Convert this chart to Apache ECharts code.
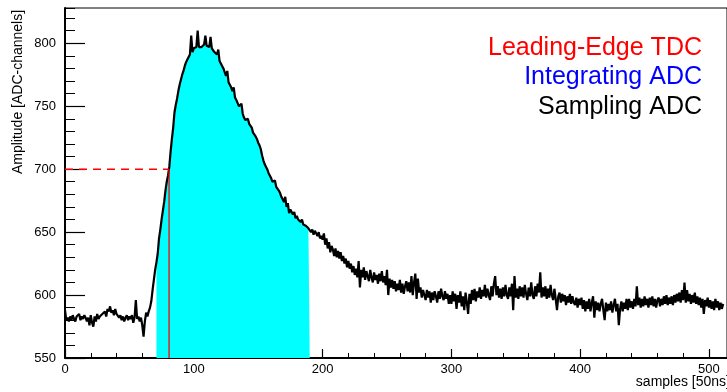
<!DOCTYPE html>
<html>
<head>
<meta charset="utf-8">
<script src="https://cdn.jsdelivr.net/npm/echarts@6/dist/echarts.min.js"></script>
<style>
  html, body { margin: 0; padding: 0; background: #fff; }
  #chart { width: 727px; height: 392px; }
</style>
</head>
<body>
<div id="chart"></div>
<script>
// sampled waveform, one value per 50 ns sample (0..511)
const amplitude = [
  588, 580, 582, 579, 583, 580, 584, 581, 579, 583, 582, 585, 580, 583, 581, 584, 582, 579, 582, 576,
  584, 578, 575, 583, 579, 585, 581, 583, 582, 585, 584, 587, 583, 589, 587, 591, 586, 588, 584, 589,
  585, 586, 582, 584, 580, 583, 579, 582, 584, 580, 583, 581, 584, 578, 582, 596, 581, 583, 579, 582,
  576, 567, 579, 586, 583, 587, 590, 595, 604, 612, 620, 626, 633, 645, 652, 660, 667, 674, 683, 690,
  695, 702, 714, 724, 733, 745, 751, 756, 762, 767, 771, 775, 778, 782, 785, 787, 789, 791, 806, 793,
  796, 795, 797, 810, 797, 798, 797, 798, 799, 806, 798, 799, 797, 805, 796, 795, 793, 792, 791, 795,
  786, 784, 785, 780, 779, 774, 778, 769, 768, 765, 762, 765, 757, 755, 756, 750, 749, 752, 744, 741,
  739, 738, 740, 736, 735, 733, 729, 728, 726, 724, 721, 719, 716, 711, 707, 704, 702, 700, 697, 695,
  693, 690, 689, 691, 686, 685, 683, 681, 678, 676, 674, 678, 670, 673, 665, 668, 667, 664, 666, 661,
  663, 660, 661, 658, 660, 656, 657, 655, 656, 653, 654, 650, 652, 648, 651, 649, 647, 650, 645, 647,
  644, 649, 640, 645, 637, 642, 634, 639, 636, 631, 637, 630, 635, 629, 634, 627, 631, 625, 629, 622,
  627, 621, 625, 618, 623, 616, 621, 614, 627, 606, 620, 614, 622, 612, 619, 615, 611, 620, 614, 610,
  618, 612, 616, 609, 617, 611, 619, 610, 615, 608, 620, 600, 613, 606, 612, 605, 611, 603, 609, 604,
  612, 602, 609, 601, 607, 611, 603, 610, 602, 615, 600, 610, 617, 597, 613, 602, 606, 598, 604, 600,
  596, 604, 598, 603, 594, 602, 596, 603, 599, 594, 603, 597, 605, 599, 596, 603, 597, 601, 593, 600,
  593, 603, 595, 601, 589, 600, 594, 603, 591, 599, 588, 602, 594, 585, 601, 593, 604, 596, 605, 595,
  603, 598, 606, 597, 604, 599, 608, 598, 605, 600, 596, 607, 599, 609, 615, 600, 607, 598, 605, 597,
  606, 599, 608, 600, 597, 606, 599, 609, 588, 615, 598, 605, 597, 607, 599, 606, 598, 608, 601, 596,
  606, 599, 610, 600, 597, 607, 599, 609, 602, 618, 598, 606, 599, 607, 597, 605, 598, 608, 600, 596,
  605, 597, 588, 599, 602, 594, 601, 595, 600, 592, 599, 594, 601, 593, 599, 594, 592, 598, 590, 597,
  592, 598, 589, 596, 587, 595, 589, 597, 587, 594, 599, 582, 595, 588, 594, 587, 593, 597, 588, 580,
  594, 587, 593, 588, 595, 586, 592, 597, 587, 593, 576, 589, 595, 587, 594, 589, 597, 588, 597, 590,
  595, 589, 597, 591, 607, 592, 598, 590, 597, 591, 599, 592, 597, 590, 598, 592, 599, 591, 597, 590,
  596, 598, 591, 597, 592, 599, 593, 600, 592, 598, 593, 599, 592, 600, 594, 601, 595, 602, 594, 604,
  596, 610, 594, 604, 595, 601, 593, 600, 594, 602, 593, 599, 592, 598, 590, 597, 585, 596, 591, 598,
  590, 596, 589, 595, 588, 597, 590, 595, 588, 594, 589, 593
]

// integration gate (samples) and leading-edge threshold
const gateStart = 71
const gateEnd = 190
const threshold = 700
const crossingSample = 80.8

const legendItems = ['Leading-Edge TDC', 'Integrating ADC', 'Sampling ADC']
const legendColors = ['#ff0000', '#0000ff', '#000000']

const FONT = '"Liberation Sans", Arial, Helvetica, sans-serif'
const Y_MIN = 550
const Y_MAX = 828
const X_MAX = 514

const chart = echarts.init(document.getElementById('chart'))

const waveform = amplitude.map((v, i) => [i, v])
const gated = waveform.slice(gateStart, gateEnd + 1)

// ROOT-like inside ticks: one axis for the majors (with labels), one for the minors
const xMajor = {
  type: 'value', min: 0, max: X_MAX, interval: 100, position: 'bottom',
  axisLine: { lineStyle: { color: '#000', width: 2 } },
  axisTick: { inside: true, length: 9, lineStyle: { color: '#000', width: 1.2 } },
  axisLabel: {
    color: '#000', fontSize: 13, fontFamily: FONT, margin: 5, showMaxLabel: false,
    formatter: (v) => (v % 100 === 0 ? String(v) : ''),
  },
  splitLine: { show: false },
}
const xMinor = {
  type: 'value', min: 0, max: X_MAX, interval: 20, position: 'bottom',
  axisLine: { show: false },
  axisTick: { inside: true, length: 5, lineStyle: { color: '#000', width: 1 } },
  axisLabel: { show: false },
  splitLine: { show: false },
}
const yMajor = {
  type: 'value', min: Y_MIN, max: Y_MAX, interval: 50, position: 'left',
  axisLine: { show: true, lineStyle: { color: '#000', width: 2 } },
  axisTick: { show: true, inside: true, length: 20, lineStyle: { color: '#000', width: 1.2 } },
  axisLabel: {
    color: '#000', fontSize: 13, fontFamily: FONT, margin: 9, showMaxLabel: false,
    formatter: (v) => (v % 50 === 0 ? String(v) : ''),
  },
  splitLine: { show: false },
}
const yMinor = {
  type: 'value', min: Y_MIN, max: Y_MAX, interval: 10, position: 'left',
  axisLine: { show: false },
  axisTick: { show: true, inside: true, length: 10, lineStyle: { color: '#000', width: 1 } },
  axisLabel: { show: false },
  splitLine: { show: false },
}

chart.setOption({
  animation: false,
  grid: {
    left: 65, right: -3, top: 8, bottom: 34,
    show: true, borderColor: '#000', borderWidth: 1, backgroundColor: 'transparent',
  },
  xAxis: [xMajor, xMinor],
  yAxis: [yMajor, yMinor],
  series: [
    {
      name: 'gate',
      type: 'line',
      data: gated,
      showSymbol: false,
      lineStyle: { opacity: 0 },
      areaStyle: { color: '#00ffff', opacity: 1, origin: 'start' },
      z: 1,
      silent: true,
    },
    {
      name: 'threshold',
      type: 'line',
      data: [[0, threshold], [crossingSample, threshold]],
      showSymbol: false,
      lineStyle: { color: '#ff0000', width: 1.5, type: [8, 6] },
      z: 4,
      silent: true,
    },
    {
      name: 'crossing',
      type: 'line',
      data: [[crossingSample, Y_MIN], [crossingSample, threshold]],
      showSymbol: false,
      lineStyle: { color: '#ff0000', width: 1.3 },
      z: 4,
      silent: true,
    },
    {
      name: 'waveform',
      type: 'line',
      data: waveform,
      showSymbol: false,
      lineStyle: { color: '#000', width: 2.2 },
      z: 3,
      silent: true,
    },
  ],
  graphic: [
    ...legendItems.map((t, i) => ({
      type: 'text',
      x: 702,
      y: 48 + i * 29.5,
      style: { text: t, fill: legendColors[i], font: `25px ${FONT}`, align: 'right', verticalAlign: 'middle' },
    })),
    {
      type: 'text',
      x: 18,
      y: 92,
      rotation: Math.PI / 2,
      style: { text: 'Amplitude [ADC-channels]', fill: '#000', font: `14px ${FONT}`, align: 'center', verticalAlign: 'middle' },
    },
    {
      type: 'text',
      x: 730,
      y: 382,
      style: { text: 'samples [50ns]', fill: '#000', font: `14px ${FONT}`, align: 'right', verticalAlign: 'middle' },
    },
  ],
})
</script>
</body>
</html>
